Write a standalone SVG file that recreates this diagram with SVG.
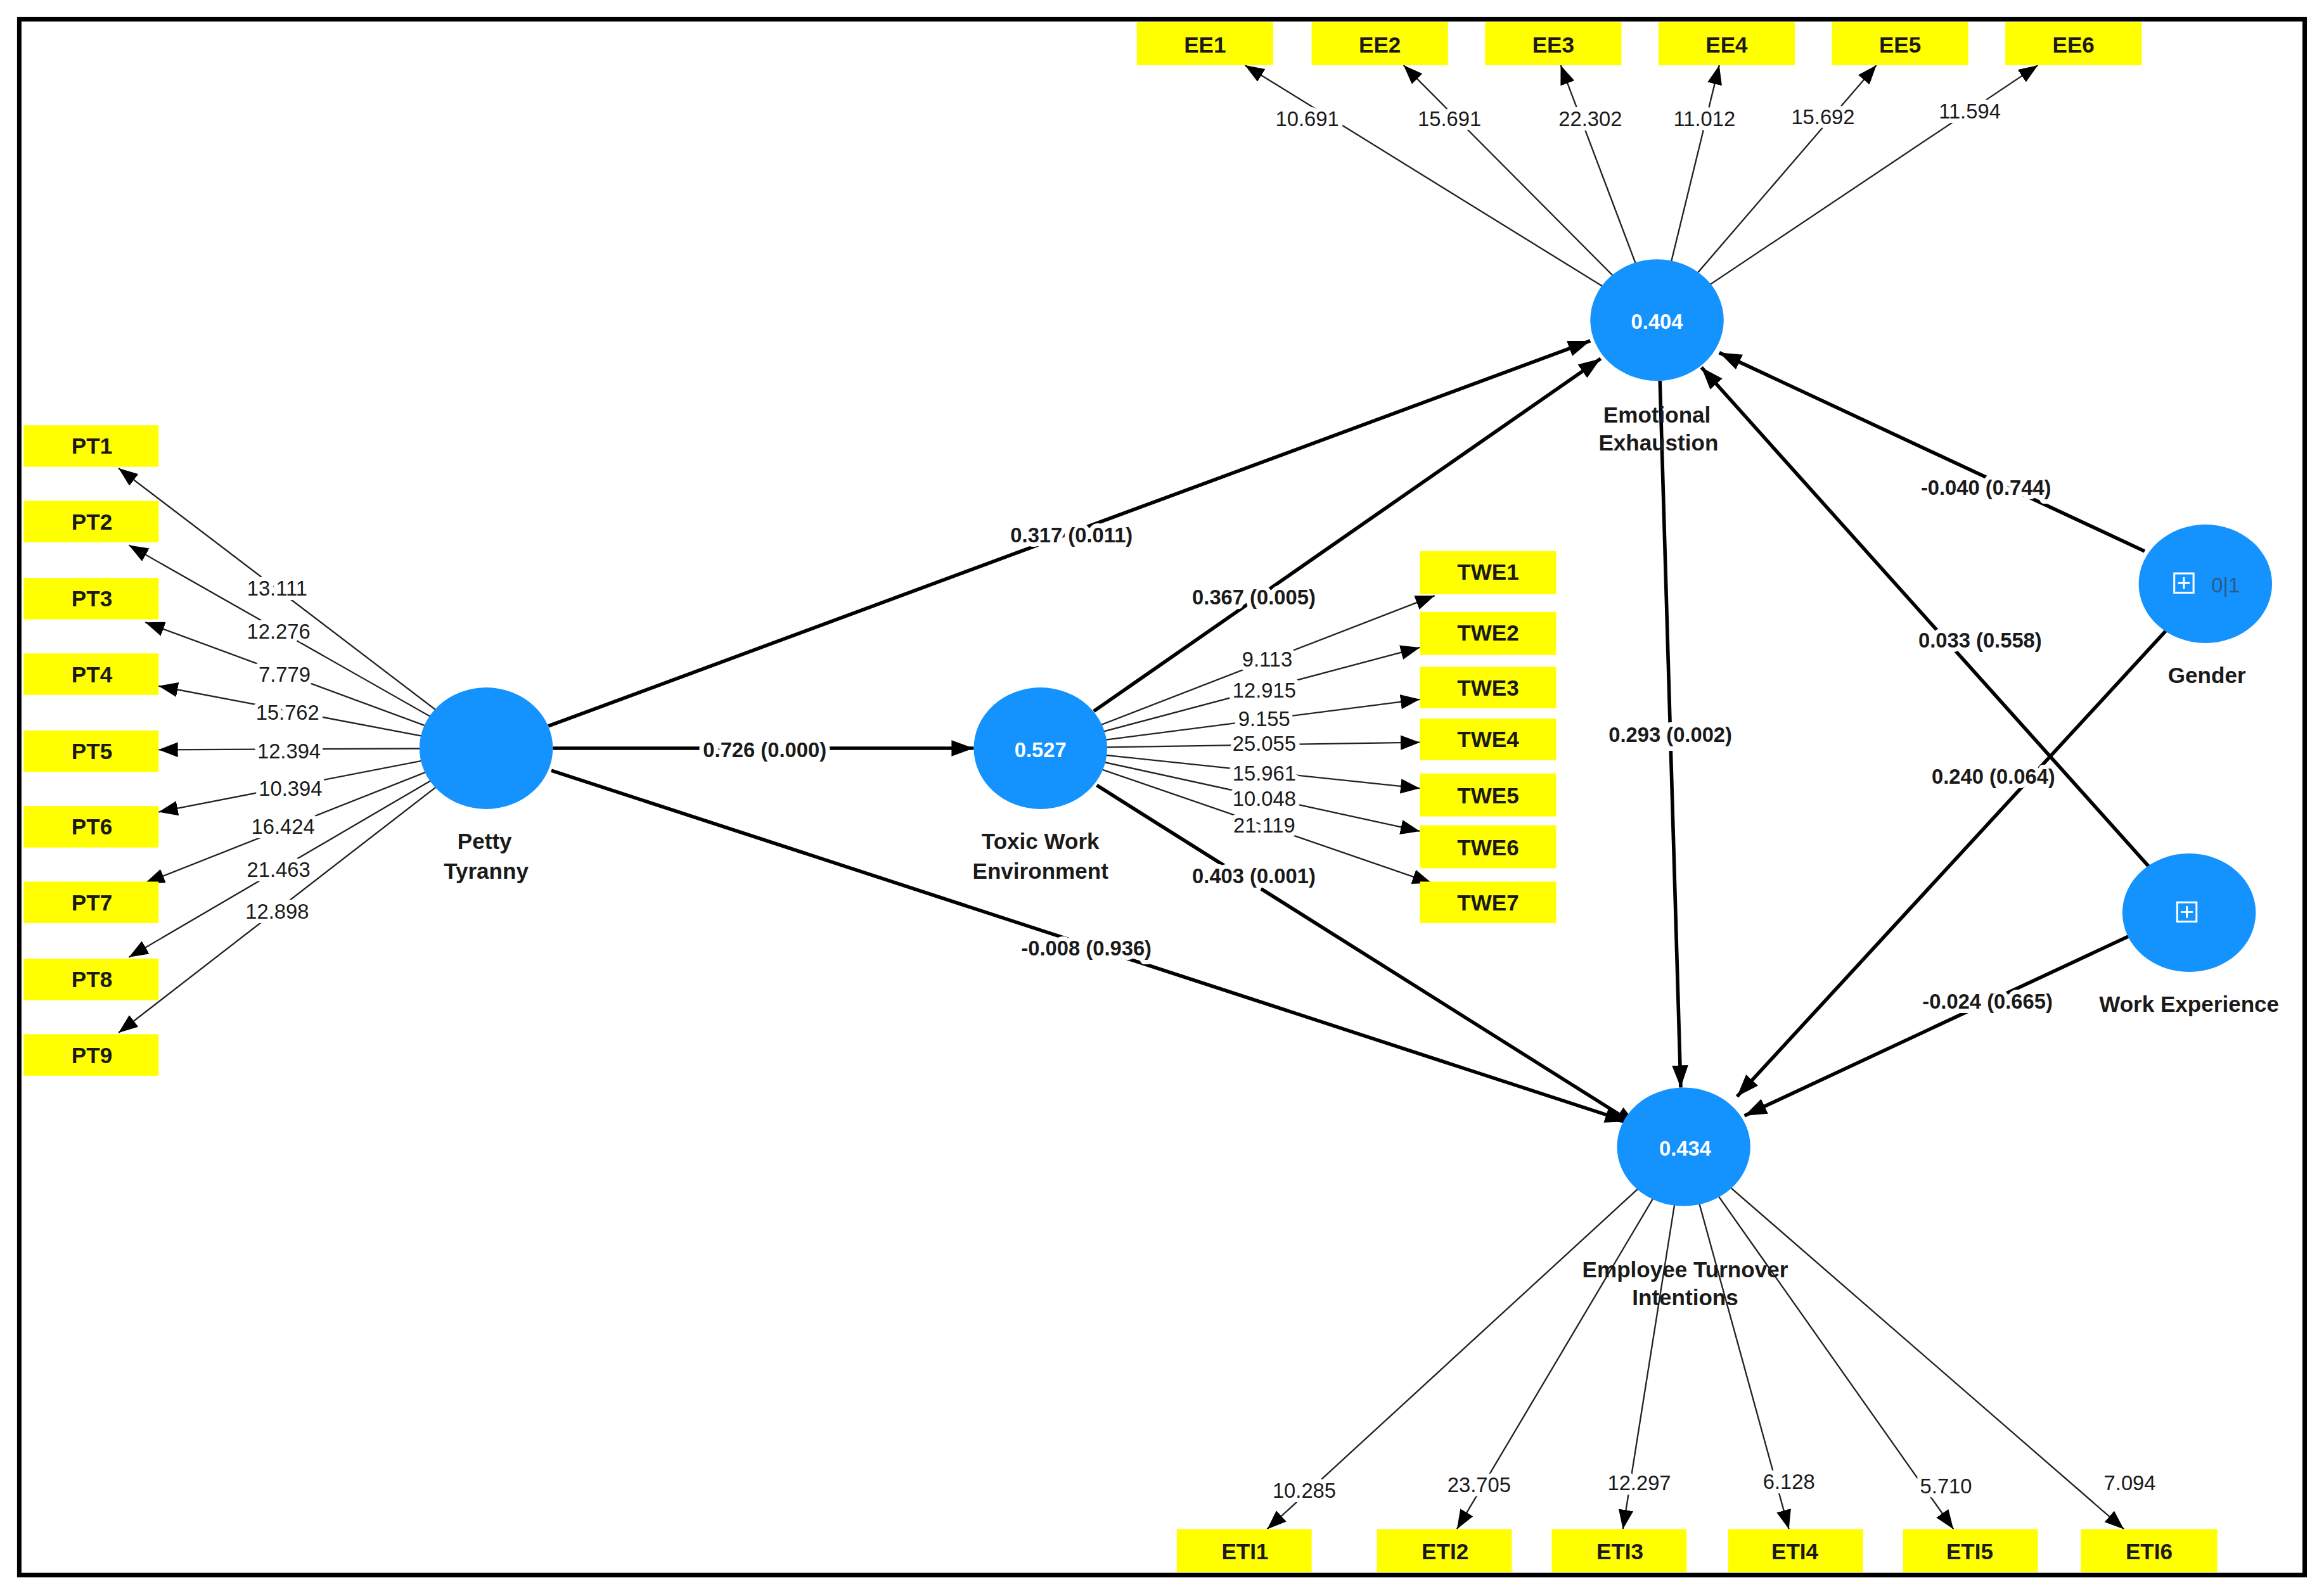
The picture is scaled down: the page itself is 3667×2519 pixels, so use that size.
<svg xmlns="http://www.w3.org/2000/svg" width="3667" height="2519" viewBox="0 0 3667 2519">
<style>
.box{fill:#ffff00}
.bt{font-family:"Liberation Sans",Arial,sans-serif;font-weight:bold;font-size:15px;fill:#1a1a1a;text-anchor:middle;dominant-baseline:central}
.node{fill:#1493ff}
.nv{font-family:"Liberation Sans",Arial,sans-serif;font-weight:bold;font-size:14px;fill:#fff;text-anchor:middle;dominant-baseline:central}
.nl{font-family:"Liberation Sans",Arial,sans-serif;font-weight:bold;font-size:15px;fill:#1a1a1a;text-anchor:middle}
.thin{stroke:#222;stroke-width:1;fill:none;marker-end:url(#a1)}
.thick{stroke:#000;stroke-width:2.4;fill:none;marker-end:url(#a2)}
.lw{font-family:"Liberation Sans",Arial,sans-serif;font-size:14px;fill:#1a1a1a;text-anchor:middle;dominant-baseline:central;paint-order:stroke;stroke:#fff;stroke-width:6px;stroke-linejoin:round}
.lb{font-family:"Liberation Sans",Arial,sans-serif;font-weight:bold;font-size:14px;fill:#1a1a1a;text-anchor:middle;dominant-baseline:central;paint-order:stroke;stroke:#fff;stroke-width:6px;stroke-linejoin:round}
</style>
<defs>
<marker id="a1" markerUnits="userSpaceOnUse" markerWidth="14" markerHeight="12" refX="13" refY="5" orient="auto"><path d="M0,0 L13,5 L0,10 z" fill="#000"/></marker>
<marker id="a2" markerUnits="userSpaceOnUse" markerWidth="16" markerHeight="12" refX="15" refY="5.5" orient="auto"><path d="M0,0 L15,5.5 L0,11 z" fill="#000"/></marker>
</defs>
<rect width="3667" height="2519" fill="#fff"/>
<g transform="scale(2.3386)">
<rect x="13" y="13" width="1542" height="1050" fill="none" stroke="#000" stroke-width="3"/>
<g id="connectors">
<line class="thin" x1="328" y1="505" x2="80" y2="316"/>
<line class="thin" x1="328" y1="505" x2="87" y2="368"/>
<line class="thin" x1="328" y1="505" x2="98" y2="420"/>
<line class="thin" x1="328" y1="505" x2="107" y2="463"/>
<line class="thin" x1="328" y1="505" x2="107" y2="506"/>
<line class="thin" x1="328" y1="505" x2="107" y2="548"/>
<line class="thin" x1="328" y1="505" x2="98" y2="596"/>
<line class="thin" x1="328" y1="505" x2="87" y2="646"/>
<line class="thin" x1="328" y1="505" x2="80" y2="697"/>
<line class="thin" x1="702" y1="505" x2="968" y2="402"/>
<line class="thin" x1="702" y1="505" x2="958" y2="437"/>
<line class="thin" x1="702" y1="505" x2="958" y2="472"/>
<line class="thin" x1="702" y1="505" x2="958" y2="501"/>
<line class="thin" x1="702" y1="505" x2="958" y2="532"/>
<line class="thin" x1="702" y1="505" x2="958" y2="561"/>
<line class="thin" x1="702" y1="505" x2="966" y2="596"/>
<line class="thin" x1="1118" y1="216" x2="840" y2="44"/>
<line class="thin" x1="1118" y1="216" x2="947" y2="44"/>
<line class="thin" x1="1118" y1="216" x2="1053" y2="44"/>
<line class="thin" x1="1118" y1="216" x2="1160" y2="44"/>
<line class="thin" x1="1118" y1="216" x2="1266" y2="44"/>
<line class="thin" x1="1118" y1="216" x2="1375" y2="44"/>
<line class="thin" x1="1136" y1="774" x2="855" y2="1032"/>
<line class="thin" x1="1136" y1="774" x2="983" y2="1032"/>
<line class="thin" x1="1136" y1="774" x2="1095" y2="1032"/>
<line class="thin" x1="1136" y1="774" x2="1207" y2="1032"/>
<line class="thin" x1="1136" y1="774" x2="1318" y2="1032"/>
<line class="thin" x1="1136" y1="774" x2="1433" y2="1032"/>
<line class="thick" x1="370" y1="490" x2="1073" y2="230"/>
<line class="thick" x1="373" y1="505" x2="657" y2="505"/>
<line class="thick" x1="372" y1="520" x2="1098" y2="757"/>
<line class="thick" x1="738" y1="480" x2="1080" y2="242"/>
<line class="thick" x1="740" y1="530" x2="1105" y2="760"/>
<line class="thick" x1="1120" y1="257" x2="1134" y2="734"/>
<line class="thick" x1="1447" y1="372" x2="1160" y2="238"/>
<line class="thick" x1="1462" y1="425" x2="1172" y2="740"/>
<line class="thick" x1="1450" y1="585" x2="1148" y2="248"/>
<line class="thick" x1="1436" y1="632" x2="1177" y2="753"/>
<text class="lw" x="187" y="397">13.111</text>
<text class="lw" x="188" y="426">12.276</text>
<text class="lw" x="192" y="455">7.779</text>
<text class="lw" x="194" y="481">15.762</text>
<text class="lw" x="195" y="507">12.394</text>
<text class="lw" x="196" y="532">10.394</text>
<text class="lw" x="191" y="558">16.424</text>
<text class="lw" x="188" y="587">21.463</text>
<text class="lw" x="187" y="615">12.898</text>
<text class="lw" x="855" y="445">9.113</text>
<text class="lw" x="853" y="466">12.915</text>
<text class="lw" x="853" y="485">9.155</text>
<text class="lw" x="853" y="502">25.055</text>
<text class="lw" x="853" y="522">15.961</text>
<text class="lw" x="853" y="539">10.048</text>
<text class="lw" x="853" y="557">21.119</text>
<text class="lw" x="882" y="80">10.691</text>
<text class="lw" x="978" y="80">15.691</text>
<text class="lw" x="1073" y="80">22.302</text>
<text class="lw" x="1150" y="80">11.012</text>
<text class="lw" x="1230" y="79">15.692</text>
<text class="lw" x="1329" y="75">11.594</text>
<text class="lw" x="880" y="1006">10.285</text>
<text class="lw" x="998" y="1002">23.705</text>
<text class="lw" x="1106" y="1001">12.297</text>
<text class="lw" x="1207" y="1000">6.128</text>
<text class="lw" x="1313" y="1003">5.710</text>
<text class="lw" x="1437" y="1001">7.094</text>
<text class="lb" x="723" y="361">0.317 (0.011)</text>
<text class="lb" x="516" y="506">0.726 (0.000)</text>
<text class="lb" x="733" y="640">-0.008 (0.936)</text>
<text class="lb" x="846" y="403">0.367 (0.005)</text>
<text class="lb" x="846" y="591">0.403 (0.001)</text>
<text class="lb" x="1127" y="496">0.293 (0.002)</text>
<text class="lb" x="1340" y="329">-0.040 (0.744)</text>
<text class="lb" x="1345" y="524">0.240 (0.064)</text>
<text class="lb" x="1336" y="432">0.033 (0.558)</text>
<text class="lb" x="1341" y="676">-0.024 (0.665)</text>
</g>
<g id="PT1"><rect class="box" x="16" y="287" width="91" height="28"/><text class="bt" x="62" y="301">PT1</text></g>
<g id="PT2"><rect class="box" x="16" y="338" width="91" height="28"/><text class="bt" x="62" y="352">PT2</text></g>
<g id="PT3"><rect class="box" x="16" y="390" width="91" height="28"/><text class="bt" x="62" y="404">PT3</text></g>
<g id="PT4"><rect class="box" x="16" y="441" width="91" height="28"/><text class="bt" x="62" y="455">PT4</text></g>
<g id="PT5"><rect class="box" x="16" y="493" width="91" height="28"/><text class="bt" x="62" y="507">PT5</text></g>
<g id="PT6"><rect class="box" x="16" y="544" width="91" height="28"/><text class="bt" x="62" y="558">PT6</text></g>
<g id="PT7"><rect class="box" x="16" y="595" width="91" height="28"/><text class="bt" x="62" y="609">PT7</text></g>
<g id="PT8"><rect class="box" x="16" y="647" width="91" height="28"/><text class="bt" x="62" y="661">PT8</text></g>
<g id="PT9"><rect class="box" x="16" y="698" width="91" height="28"/><text class="bt" x="62" y="712">PT9</text></g>
<g id="TWE1"><rect class="box" x="958" y="372" width="92" height="29"/><text class="bt" x="1004" y="386">TWE1</text></g>
<g id="TWE2"><rect class="box" x="958" y="413" width="92" height="29"/><text class="bt" x="1004" y="427">TWE2</text></g>
<g id="TWE3"><rect class="box" x="958" y="450" width="92" height="28"/><text class="bt" x="1004" y="464">TWE3</text></g>
<g id="TWE4"><rect class="box" x="958" y="485" width="92" height="28"/><text class="bt" x="1004" y="499">TWE4</text></g>
<g id="TWE5"><rect class="box" x="958" y="522" width="92" height="29"/><text class="bt" x="1004" y="537">TWE5</text></g>
<g id="TWE6"><rect class="box" x="958" y="557" width="92" height="29"/><text class="bt" x="1004" y="572">TWE6</text></g>
<g id="TWE7"><rect class="box" x="958" y="595" width="92" height="28"/><text class="bt" x="1004" y="609">TWE7</text></g>
<g id="EE1"><rect class="box" x="767" y="15" width="92" height="29"/><text class="bt" x="813" y="30">EE1</text></g>
<g id="EE2"><rect class="box" x="885" y="15" width="92" height="29"/><text class="bt" x="931" y="30">EE2</text></g>
<g id="EE3"><rect class="box" x="1002" y="15" width="92" height="29"/><text class="bt" x="1048" y="30">EE3</text></g>
<g id="EE4"><rect class="box" x="1119" y="15" width="92" height="29"/><text class="bt" x="1165" y="30">EE4</text></g>
<g id="EE5"><rect class="box" x="1236" y="15" width="92" height="29"/><text class="bt" x="1282" y="30">EE5</text></g>
<g id="EE6"><rect class="box" x="1353" y="15" width="92" height="29"/><text class="bt" x="1399" y="30">EE6</text></g>
<g id="ETI1"><rect class="box" x="794" y="1032" width="91" height="29"/><text class="bt" x="840" y="1047">ETI1</text></g>
<g id="ETI2"><rect class="box" x="929" y="1032" width="91" height="29"/><text class="bt" x="975" y="1047">ETI2</text></g>
<g id="ETI3"><rect class="box" x="1047" y="1032" width="91" height="29"/><text class="bt" x="1093" y="1047">ETI3</text></g>
<g id="ETI4"><rect class="box" x="1166" y="1032" width="91" height="29"/><text class="bt" x="1211" y="1047">ETI4</text></g>
<g id="ETI5"><rect class="box" x="1284" y="1032" width="91" height="29"/><text class="bt" x="1329" y="1047">ETI5</text></g>
<g id="ETI6"><rect class="box" x="1404" y="1032" width="92" height="29"/><text class="bt" x="1450" y="1047">ETI6</text></g>
<g id="PettyTyranny"><ellipse class="node" cx="328" cy="505" rx="45" ry="41"/><text class="nl" x="327" y="573">Petty</text><text class="nl" x="328" y="593">Tyranny</text></g>
<g id="ToxicWorkEnvironment"><ellipse class="node" cx="702" cy="505" rx="45" ry="41"/><text class="nv" x="702" y="506">0.527</text><text class="nl" x="702" y="573">Toxic Work</text><text class="nl" x="702" y="593">Environment</text></g>
<g id="EmotionalExhaustion"><ellipse class="node" cx="1118" cy="216" rx="45" ry="41"/><text class="nv" x="1118" y="217">0.404</text><text class="nl" x="1118" y="285">Emotional</text><text class="nl" x="1119" y="304">Exhaustion</text></g>
<g id="EmployeeTurnoverIntentions"><ellipse class="node" cx="1136" cy="774" rx="45" ry="40"/><text class="nv" x="1137" y="775">0.434</text><text class="nl" x="1137" y="862">Employee Turnover</text><text class="nl" x="1137" y="881">Intentions</text></g>
<g id="Gender"><ellipse class="node" cx="1488" cy="394" rx="45" ry="40"/><rect x="1467" y="387" width="13" height="13" fill="none" stroke="#fff" stroke-width="1.3"/><path d="M1473.5,389.5 v8 M1469.5,393.5 h8" stroke="#fff" stroke-width="1.3"/><text x="1492" y="395" font-family="Liberation Sans,Arial,sans-serif" font-size="14" fill="#2a5a8a" dominant-baseline="central">0|1</text><text class="nl" x="1489" y="461">Gender</text></g>
<g id="WorkExperience"><ellipse class="node" cx="1477" cy="616" rx="45" ry="40"/><rect x="1469" y="609" width="13" height="13" fill="none" stroke="#fff" stroke-width="1.3"/><path d="M1475.5,611.5 v8 M1471.5,615.5 h8" stroke="#fff" stroke-width="1.3"/><text class="nl" x="1477" y="683">Work Experience</text></g>
</g>
</svg>
